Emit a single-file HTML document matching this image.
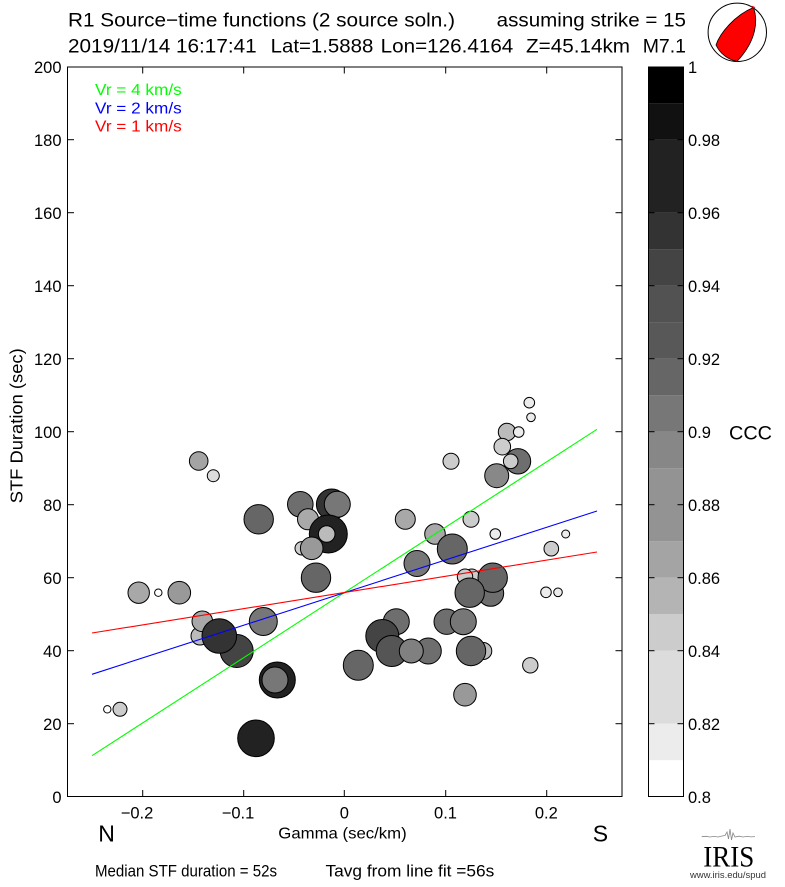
<!DOCTYPE html>
<html>
<head>
<meta charset="utf-8">
<style>
  html,body{margin:0;padding:0;background:#fff;}
  svg{display:block;}
  text{font-family:"Liberation Sans", Arial, sans-serif;fill:#000;}
</style>
</head>
<body>
<svg width="785" height="887" viewBox="0 0 785 887" xmlns="http://www.w3.org/2000/svg">
  <rect x="0" y="0" width="785" height="887" fill="#fff"/>

  <!-- Title -->
  <text x="68" y="26.7" font-size="19.5" textLength="387" lengthAdjust="spacingAndGlyphs">R1 Source−time functions (2 source soln.)</text>
  <text x="496.7" y="26.7" font-size="19.5" textLength="189.3" lengthAdjust="spacingAndGlyphs">assuming strike = 15</text>
  <text x="68" y="52.3" font-size="19.5" textLength="188.7" lengthAdjust="spacingAndGlyphs">2019/11/14 16:17:41</text>
  <text x="270.7" y="52.3" font-size="19.5" textLength="102.6" lengthAdjust="spacingAndGlyphs">Lat=1.5888</text>
  <text x="380.7" y="52.3" font-size="19.5" textLength="132.6" lengthAdjust="spacingAndGlyphs">Lon=126.4164</text>
  <text x="526" y="52.3" font-size="19.5" textLength="104" lengthAdjust="spacingAndGlyphs">Z=45.14km</text>
  <text x="642.7" y="52.3" font-size="19.5" textLength="43.3" lengthAdjust="spacingAndGlyphs">M7.1</text>

  <!-- Beachball -->
  <circle cx="737.3" cy="32.3" r="29.2" fill="#fff" stroke="#000" stroke-width="1"/>
  <path d="M716,45 C720,33 735,15 753.5,7.5 C758,20 757,40 737,61.4 A29.2,29.2 0 0 1 716,45 Z" fill="#ff0000" stroke="#000" stroke-width="0.8"/>
  <path d="M751.5,5.5 L755.5,7.3 L753.5,8.5 Z" fill="#ff0000"/>

  <!-- Plot area -->
  <g stroke="#000" stroke-width="1" fill="none">
    <rect x="67.5" y="67" width="554.5" height="729.5"/>
  </g>
  <!-- x ticks (bottom & top, inward) -->
  <g stroke="#000" stroke-width="1">
    <line x1="142.7" y1="796.5" x2="142.7" y2="790"/>
    <line x1="243.7" y1="796.5" x2="243.7" y2="790"/>
    <line x1="344.3" y1="796.5" x2="344.3" y2="790"/>
    <line x1="445.7" y1="796.5" x2="445.7" y2="790"/>
    <line x1="546.7" y1="796.5" x2="546.7" y2="790"/>
    <line x1="142.7" y1="67" x2="142.7" y2="73.5"/>
    <line x1="243.7" y1="67" x2="243.7" y2="73.5"/>
    <line x1="344.3" y1="67" x2="344.3" y2="73.5"/>
    <line x1="445.7" y1="67" x2="445.7" y2="73.5"/>
    <line x1="546.7" y1="67" x2="546.7" y2="73.5"/>
  </g>
  <!-- y ticks (left & right, inward) -->
  <g stroke="#000" stroke-width="1">
    <line x1="67.5" y1="723.7" x2="74" y2="723.7"/><line x1="615.5" y1="723.7" x2="622" y2="723.7"/>
    <line x1="67.5" y1="650.7" x2="74" y2="650.7"/><line x1="615.5" y1="650.7" x2="622" y2="650.7"/>
    <line x1="67.5" y1="577.7" x2="74" y2="577.7"/><line x1="615.5" y1="577.7" x2="622" y2="577.7"/>
    <line x1="67.5" y1="504.7" x2="74" y2="504.7"/><line x1="615.5" y1="504.7" x2="622" y2="504.7"/>
    <line x1="67.5" y1="431.7" x2="74" y2="431.7"/><line x1="615.5" y1="431.7" x2="622" y2="431.7"/>
    <line x1="67.5" y1="358.7" x2="74" y2="358.7"/><line x1="615.5" y1="358.7" x2="622" y2="358.7"/>
    <line x1="67.5" y1="285.7" x2="74" y2="285.7"/><line x1="615.5" y1="285.7" x2="622" y2="285.7"/>
    <line x1="67.5" y1="212.7" x2="74" y2="212.7"/><line x1="615.5" y1="212.7" x2="622" y2="212.7"/>
    <line x1="67.5" y1="139.7" x2="74" y2="139.7"/><line x1="615.5" y1="139.7" x2="622" y2="139.7"/>
  </g>

  <!-- y tick labels -->
  <g font-size="16.5" text-anchor="end">
    <text x="61.5" y="803.2">0</text>
    <text x="61.5" y="730.2">20</text>
    <text x="61.5" y="657.2">40</text>
    <text x="61.5" y="584.2">60</text>
    <text x="61.5" y="511.2">80</text>
    <text x="61.5" y="438.2">100</text>
    <text x="61.5" y="365.2">120</text>
    <text x="61.5" y="292.2">140</text>
    <text x="61.5" y="219.2">160</text>
    <text x="61.5" y="146.2">180</text>
    <text x="61.5" y="73.2">200</text>
  </g>
  <!-- x tick labels -->
  <g font-size="16.5">
    <text x="120.7" y="818.3">−0.2</text>
    <text x="221.7" y="818.3">−0.1</text>
    <text x="344.3" y="818.3" text-anchor="middle">0</text>
    <text x="445.5" y="818.3" text-anchor="middle">0.1</text>
    <text x="546.3" y="818.3" text-anchor="middle">0.2</text>
  </g>

  <!-- Axis labels -->
  <text x="278.3" y="838.3" font-size="16" textLength="128.4" lengthAdjust="spacingAndGlyphs">Gamma (sec/km)</text>
  <text transform="translate(22.3,425.8) rotate(-90)" text-anchor="middle" font-size="17.5" textLength="155" lengthAdjust="spacingAndGlyphs">STF Duration (sec)</text>
  <text x="98.3" y="841.7" font-size="23">N</text>
  <text x="592.7" y="841.7" font-size="23">S</text>

  <!-- Legend text -->
  <text x="95" y="95" font-size="16" fill="#00ff00" style="fill:#00ff00" textLength="86.7" lengthAdjust="spacingAndGlyphs">Vr = 4 km/s</text>
  <text x="95" y="113.3" font-size="16" style="fill:#0000ff" textLength="86.7" lengthAdjust="spacingAndGlyphs">Vr = 2 km/s</text>
  <text x="95" y="131.7" font-size="16" style="fill:#ff0000" textLength="86.7" lengthAdjust="spacingAndGlyphs">Vr = 1 km/s</text>

  <!-- Scatter points -->
  <g stroke="#000" stroke-width="1">
    <circle cx="198.7" cy="461" r="9.3" fill="#a4a4a4"/>
    <circle cx="213.3" cy="475.7" r="6" fill="#dcdcdc"/>
    <circle cx="258.7" cy="519.3" r="14.7" fill="#666666"/>
    <circle cx="300.3" cy="504.3" r="12.8" fill="#6e6e6e"/>
    <circle cx="331.7" cy="504.3" r="15.3" fill="#333333"/>
    <circle cx="337.3" cy="504.3" r="13" fill="#777777"/>
    <circle cx="308" cy="519.3" r="10.5" fill="#a9a9a9"/>
    <circle cx="328.3" cy="534" r="19" fill="#222222"/>
    <circle cx="326.7" cy="534" r="8.3" fill="#bbbbbb"/>
    <circle cx="301.7" cy="548.3" r="6.7" fill="#cccccc"/>
    <circle cx="311.7" cy="548.3" r="11.3" fill="#999999"/>
    <circle cx="316" cy="577.7" r="14.7" fill="#666666"/>
    <circle cx="138.7" cy="592.7" r="10.7" fill="#a8a8a8"/>
    <circle cx="158.3" cy="592.7" r="3.7" fill="#ffffff"/>
    <circle cx="179.3" cy="592.7" r="11.3" fill="#999999"/>
    <circle cx="200" cy="636" r="9" fill="#bbbbbb"/>
    <circle cx="202.3" cy="621.3" r="10.3" fill="#a8a8a8"/>
    <circle cx="263.3" cy="621.5" r="14" fill="#777777"/>
    <circle cx="236.7" cy="651" r="16.5" fill="#444444"/>
    <circle cx="219.3" cy="636" r="17.3" fill="#333333"/>
    <circle cx="277.3" cy="680" r="18" fill="#222222"/>
    <circle cx="275" cy="680" r="13" fill="#777777"/>
    <circle cx="107.3" cy="709.3" r="3.7" fill="#ffffff"/>
    <circle cx="120" cy="709.3" r="7" fill="#cccccc"/>
    <circle cx="256" cy="738.3" r="18.3" fill="#222222"/>
    <circle cx="358.3" cy="665.3" r="15" fill="#666666"/>
    <circle cx="417" cy="563.5" r="13" fill="#777777"/>
    <circle cx="396.3" cy="621.7" r="13" fill="#6e6e6e"/>
    <circle cx="382.3" cy="636" r="16.5" fill="#444444"/>
    <circle cx="391.7" cy="651" r="15.5" fill="#555555"/>
    <circle cx="428.3" cy="651" r="13" fill="#6e6e6e"/>
    <circle cx="411.3" cy="651" r="12" fill="#808080"/>
    <circle cx="446.7" cy="621.7" r="12.7" fill="#6e6e6e"/>
    <circle cx="463.3" cy="621.7" r="13" fill="#777777"/>
    <circle cx="483.3" cy="651" r="8.5" fill="#bbbbbb"/>
    <circle cx="471" cy="651" r="14.7" fill="#666666"/>
    <circle cx="465" cy="694.7" r="11.3" fill="#999999"/>
    <circle cx="530.3" cy="665.3" r="7.7" fill="#cccccc"/>
    <circle cx="546" cy="592.3" r="5.3" fill="#ececec"/>
    <circle cx="558" cy="592.3" r="4.3" fill="#ececec"/>
    <circle cx="471.7" cy="576.7" r="7.7" fill="#cccccc"/>
    <circle cx="465" cy="576.7" r="7.7" fill="#cccccc"/>
    <circle cx="490.7" cy="593.3" r="13" fill="#6e6e6e"/>
    <circle cx="492.7" cy="577.7" r="14.7" fill="#666666"/>
    <circle cx="469.7" cy="592.7" r="14.7" fill="#666666"/>
    <circle cx="529.3" cy="402.7" r="5.3" fill="#ececec"/>
    <circle cx="531" cy="417.3" r="4.3" fill="#ececec"/>
    <circle cx="507" cy="432" r="8.7" fill="#bbbbbb"/>
    <circle cx="518.7" cy="432" r="5.3" fill="#ececec"/>
    <circle cx="502.3" cy="446.7" r="8.3" fill="#cccccc"/>
    <circle cx="518" cy="461.3" r="12.7" fill="#6e6e6e"/>
    <circle cx="510.7" cy="461.3" r="7.3" fill="#cccccc"/>
    <circle cx="496.7" cy="475.7" r="12" fill="#888888"/>
    <circle cx="451" cy="461.3" r="8" fill="#cccccc"/>
    <circle cx="471" cy="519.3" r="8" fill="#cccccc"/>
    <circle cx="405.3" cy="519.3" r="10" fill="#a8a8a8"/>
    <circle cx="435" cy="534" r="10.3" fill="#a8a8a8"/>
    <circle cx="452.3" cy="549" r="15" fill="#666666"/>
    <circle cx="495.3" cy="534" r="5.3" fill="#ececec"/>
    <circle cx="565.7" cy="534" r="4" fill="#ececec"/>
    <circle cx="551.3" cy="548.7" r="7.3" fill="#cccccc"/>
  </g>

  <!-- Fit lines -->
  <g stroke-width="1.1" fill="none">
    <line x1="92" y1="755.7" x2="597" y2="429.3" stroke="#00ff00"/>
    <line x1="92" y1="674.3" x2="597" y2="511" stroke="#0000ff"/>
    <line x1="92" y1="633" x2="597" y2="552" stroke="#ff0000"/>
  </g>

  <!-- Colorbar -->
  <g stroke="none">
    <rect x="648.3" y="66.7" width="35" height="36.6" fill="#000000"/>
    <rect x="648.3" y="103.2" width="35" height="36.6" fill="#111111"/>
    <rect x="648.3" y="139.7" width="35" height="73.1" fill="#222222"/>
    <rect x="648.3" y="212.7" width="35" height="36.6" fill="#333333"/>
    <rect x="648.3" y="249.2" width="35" height="36.6" fill="#444444"/>
    <rect x="648.3" y="285.7" width="35" height="36.6" fill="#525252"/>
    <rect x="648.3" y="322.2" width="35" height="36.6" fill="#585858"/>
    <rect x="648.3" y="358.7" width="35" height="36.6" fill="#666666"/>
    <rect x="648.3" y="395.2" width="35" height="36.6" fill="#777777"/>
    <rect x="648.3" y="431.7" width="35" height="36.6" fill="#878787"/>
    <rect x="648.3" y="468.2" width="35" height="73.1" fill="#939393"/>
    <rect x="648.3" y="541.2" width="35" height="36.6" fill="#a4a4a4"/>
    <rect x="648.3" y="577.7" width="35" height="36.6" fill="#b4b4b4"/>
    <rect x="648.3" y="614.2" width="35" height="36.6" fill="#cccccc"/>
    <rect x="648.3" y="650.7" width="35" height="73.1" fill="#dcdcdc"/>
    <rect x="648.3" y="723.7" width="35" height="36.6" fill="#ececec"/>
    <rect x="648.3" y="760.2" width="35" height="36.5" fill="#ffffff"/>
  </g>
  <rect x="648.5" y="67" width="35" height="729.5" fill="none" stroke="#000" stroke-width="1"/>
  <g stroke="#000" stroke-width="1">
    <line x1="648.5" y1="139.7" x2="654.5" y2="139.7"/><line x1="677.5" y1="139.7" x2="683.5" y2="139.7"/>
    <line x1="648.5" y1="212.7" x2="654.5" y2="212.7"/><line x1="677.5" y1="212.7" x2="683.5" y2="212.7"/>
    <line x1="648.5" y1="285.7" x2="654.5" y2="285.7"/><line x1="677.5" y1="285.7" x2="683.5" y2="285.7"/>
    <line x1="648.5" y1="358.7" x2="654.5" y2="358.7"/><line x1="677.5" y1="358.7" x2="683.5" y2="358.7"/>
    <line x1="648.5" y1="431.7" x2="654.5" y2="431.7"/><line x1="677.5" y1="431.7" x2="683.5" y2="431.7"/>
    <line x1="648.5" y1="504.7" x2="654.5" y2="504.7"/><line x1="677.5" y1="504.7" x2="683.5" y2="504.7"/>
    <line x1="648.5" y1="577.7" x2="654.5" y2="577.7"/><line x1="677.5" y1="577.7" x2="683.5" y2="577.7"/>
    <line x1="648.5" y1="650.7" x2="654.5" y2="650.7"/><line x1="677.5" y1="650.7" x2="683.5" y2="650.7"/>
    <line x1="648.5" y1="723.7" x2="654.5" y2="723.7"/><line x1="677.5" y1="723.7" x2="683.5" y2="723.7"/>
  </g>
  <g font-size="16.5">
    <text x="688" y="73.2">1</text>
    <text x="688" y="146.2">0.98</text>
    <text x="688" y="219.2">0.96</text>
    <text x="688" y="292.2">0.94</text>
    <text x="688" y="365.2">0.92</text>
    <text x="688" y="438.2">0.9</text>
    <text x="688" y="511.2">0.88</text>
    <text x="688" y="584.2">0.86</text>
    <text x="688" y="657.2">0.84</text>
    <text x="688" y="730.2">0.82</text>
    <text x="688" y="803.2">0.8</text>
  </g>
  <text x="729" y="439.5" font-size="19.5" textLength="43" lengthAdjust="spacingAndGlyphs">CCC</text>

  <!-- Bottom summary -->
  <text x="95" y="876.7" font-size="16.5" textLength="182" lengthAdjust="spacingAndGlyphs">Median STF duration = 52s</text>
  <text x="325.5" y="876.7" font-size="16.5" textLength="168.8" lengthAdjust="spacingAndGlyphs">Tavg from line fit =56s</text>

  <!-- IRIS logo -->
  <polyline points="701.7,836.7 706,836.3 710,837 714,836.4 718,837 722,836 725,835.5 727,832 728.5,839 730,829 731.5,840 733,833 735,837 739,836.2 743,837 747,836.4 751,836.9 755,836.6" fill="none" stroke="#888" stroke-width="0.8"/>
  <text x="703.3" y="866.7" font-family="Liberation Serif, serif" style="font-family:'Liberation Serif',serif" font-size="30" textLength="51" lengthAdjust="spacingAndGlyphs">IRIS</text>
  <text x="690" y="878" font-size="9.5" textLength="76" lengthAdjust="spacingAndGlyphs" style="fill:#333">www.iris.edu/spud</text>
</svg>
</body>
</html>
